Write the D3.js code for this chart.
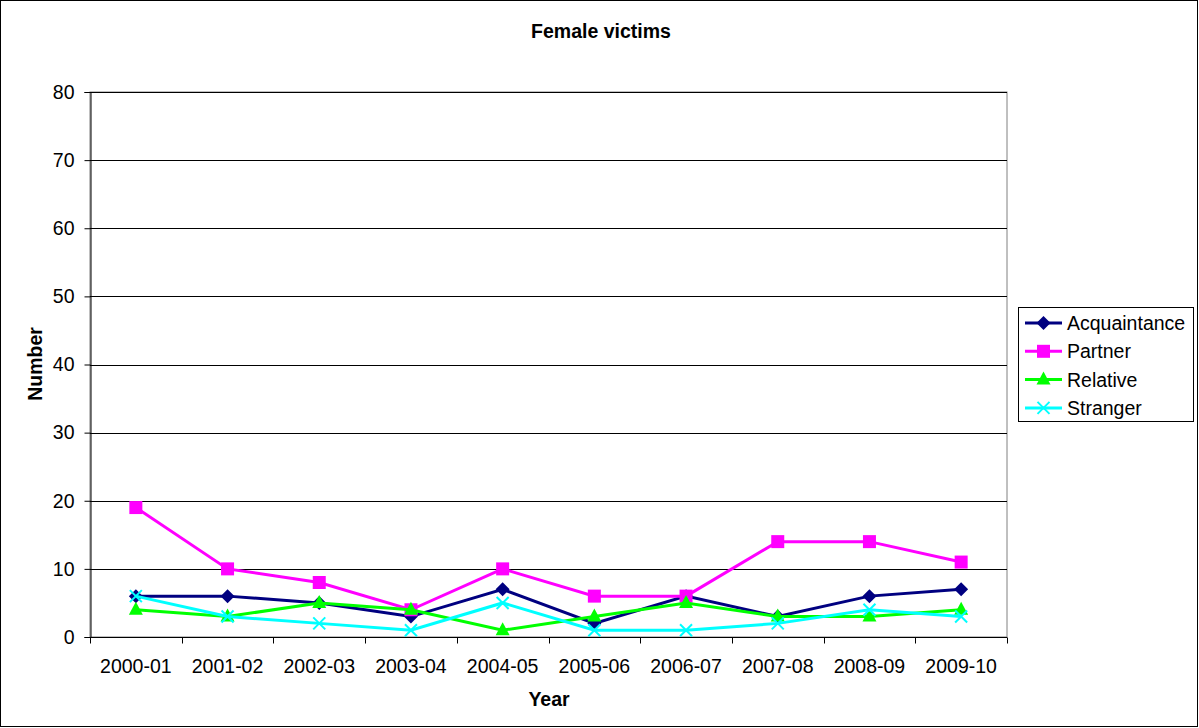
<!DOCTYPE html>
<html><head><meta charset="utf-8">
<script src="https://cdn.jsdelivr.net/npm/d3@7"></script>
<style>body{margin:0;background:#fff}svg{display:block;font-family:"Liberation Sans",Arial,sans-serif}</style>
</head><body>
<svg id="c" width="1199" height="728"></svg>
<script>
const years = ["2000-01","2001-02","2002-03","2003-04","2004-05","2005-06","2006-07","2007-08","2008-09","2009-10"];
const acquaintance = [6,6,5,3,7,2,6,3,6,7];
const partner = [19,10,8,4,10,6,6,14,14,11];
const relative = [4,3,5,4,1,3,5,3,3,4];
const stranger = [6,3,2,1,5,1,1,2,4,3];
const yTicks = [0,10,20,30,40,50,60,70,80];
const seriesNames = ["Acquaintance","Partner","Relative","Stranger"];
const seriesColors = ["#000080","#FF00FF","#00FF00","#00FFFF"];
const seriesShapes = ["diamond","square","triangle","x"];
const seriesData = [acquaintance, partner, relative, stranger];

const FS = 19.5;
const svg = d3.select("#c");
svg.append("rect").attr("x",0.5).attr("y",0.5).attr("width",1197).attr("height",726).attr("fill","#fff").attr("stroke","#000");

const L=90, R=1007, T=92, B=637;
const x = d3.scaleBand().domain(years).range([L,R]);
const y = d3.scaleLinear().domain([0,80]).range([B,T]);

// plot border
svg.append("rect").attr("x",L).attr("y",T).attr("width",R-L).attr("height",B-T).attr("fill","none").attr("stroke","#808080");
// gridlines
svg.append("g").selectAll("line").data(yTicks.filter(d=>d>0)).join("line")
  .attr("x1",L).attr("x2",R).attr("y1",d=>Math.round(y(d))+0.5).attr("y2",d=>Math.round(y(d))+0.5).attr("stroke","#000");

// y axis
const ya = svg.append("g").attr("transform",`translate(${L+0.5},0)`)
  .call(d3.axisLeft(y).tickValues(yTicks).tickSize(6).tickPadding(10).tickFormat(d3.format("d")));
ya.selectAll("path,line").attr("stroke","#000");
ya.selectAll("text").attr("font-size",FS).attr("fill","#000").attr("font-family","Liberation Sans, Arial, sans-serif");

// x axis
const xa = svg.append("g").attr("transform",`translate(0,${B+0.5})`);
xa.append("line").attr("x1",L).attr("x2",R).attr("stroke","#000");
const bounds = d3.range(years.length+1).map(i=>L+i*x.bandwidth());
xa.selectAll("line.t").data(bounds).join("line").attr("class","t")
  .attr("x1",d=>Math.round(d)+0.5).attr("x2",d=>Math.round(d)+0.5).attr("y1",0).attr("y2",6).attr("stroke","#000");
xa.selectAll("text").data(years).join("text")
  .attr("x",d=>x(d)+x.bandwidth()/2).attr("y",35).attr("text-anchor","middle")
  .attr("font-size",FS).attr("fill","#000").text(d=>d);

// titles
svg.append("text").attr("x",601).attr("y",38).attr("text-anchor","middle").attr("font-weight","bold").attr("font-size",FS).text("Female victims");
svg.append("text").attr("x",549).attr("y",706).attr("text-anchor","middle").attr("font-weight","bold").attr("font-size",FS).text("Year");
svg.append("text").attr("transform","translate(42,364) rotate(-90)").attr("text-anchor","middle").attr("font-weight","bold").attr("font-size",FS).text("Number");

function marker(g, shape, color, cx, cy){
  if(shape==="diamond"){
    g.append("path").attr("d",`M${cx},${cy-7}L${cx+7},${cy}L${cx},${cy+7}L${cx-7},${cy}Z`).attr("fill",color);
  } else if(shape==="square"){
    g.append("rect").attr("x",cx-6.5).attr("y",cy-6.5).attr("width",13).attr("height",13).attr("fill",color);
  } else if(shape==="triangle"){
    g.append("path").attr("d",`M${cx},${cy-8}L${cx+7},${cy+5}L${cx-7},${cy+5}Z`).attr("fill",color);
  } else {
    g.append("path").attr("d",`M${cx-6},${cy-6}L${cx+6},${cy+6}M${cx-6},${cy+6}L${cx+6},${cy-6}`).attr("stroke",color).attr("stroke-width",2);
  }
}

const line = d3.line().x((d,i)=>x(years[i])+x.bandwidth()/2).y(d=>y(d));
seriesData.forEach((data,si)=>{
  const g = svg.append("g");
  g.append("path").datum(data).attr("d",line).attr("fill","none").attr("stroke",seriesColors[si]).attr("stroke-width",3);
  data.forEach((v,i)=>marker(g, seriesShapes[si], seriesColors[si], x(years[i])+x.bandwidth()/2, y(v)));
});

// legend
const lg = svg.append("g");
lg.append("rect").attr("x",1018.5).attr("y",307.5).attr("width",175).attr("height",114).attr("fill","#fff").attr("stroke","#000");
seriesNames.forEach((n,i)=>{
  const cy = 323 + i*28.3;
  lg.append("line").attr("x1",1025).attr("x2",1062).attr("y1",cy).attr("y2",cy).attr("stroke",seriesColors[i]).attr("stroke-width",3);
  marker(lg, seriesShapes[i], seriesColors[i], 1043.5, cy);
  lg.append("text").attr("x",1067).attr("y",cy+7).attr("font-size",FS).text(n);
});
</script>
</body></html>
